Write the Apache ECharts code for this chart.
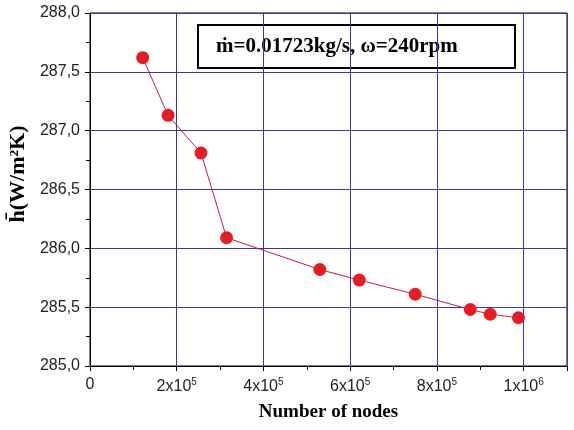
<!DOCTYPE html>
<html>
<head>
<meta charset="utf-8">
<script src="https://cdn.jsdelivr.net/npm/echarts@6/dist/echarts.min.js"></script>
<style>
  html, body { margin: 0; padding: 0; background: #fff; }
  #chart { width: 574px; height: 430px; }
</style>
</head>
<body>
<div id="chart"></div>
<script>
// mesh independence data
let nodeCounts = [121500, 180000, 256000, 315000, 530000, 621000, 750000, 877000, 923000, 988000];
let hValues = [287.62, 287.13, 286.81, 286.09, 285.82, 285.73, 285.61, 285.48, 285.44, 285.41];
let xTickLabels = { 0: '0', 200000: '2x10{sup|5}', 400000: '4x10{sup|5}', 600000: '6x10{sup|5}', 800000: '8x10{sup|5}', 1000000: '1x10{sup|6}' };

let gridBlue = '#3a3a96';
let serif = '"Liberation Serif", "Times New Roman", serif';
let sans = '"Liberation Sans", Arial, sans-serif';

let chart = echarts.init(document.getElementById('chart'));

chart.setOption({
    animation: false,
    grid: {
        left: 90, right: 7, top: 13, bottom: 64,
        outerBoundsMode: 'none',
        show: true, borderColor: '#000', borderWidth: 1
    },
    xAxis: {
        type: 'value',
        min: 0, max: 1100000, interval: 200000,
        name: 'Number of nodes',
        nameLocation: 'middle',
        nameGap: 37,
        nameTextStyle: { fontFamily: serif, fontWeight: 'bold', fontSize: 19, color: '#000' },
        axisLine: { lineStyle: { color: '#000', width: 1 } },
        axisTick: { show: true, inside: false, length: 5, lineStyle: { color: '#000' } },
        minorTick: { show: true, splitNumber: 2, length: 4, lineStyle: { color: '#000' } },
        splitLine: { show: true, lineStyle: { color: gridBlue, width: 1 } },
        axisLabel: {
            margin: 11,
            fontFamily: sans, fontSize: 16, color: '#222',
            formatter: function (v) { return xTickLabels[v] !== undefined ? xTickLabels[v] : ''; },
            rich: {
                sup: { fontFamily: sans, fontSize: 10, color: '#222', verticalAlign: 'top', padding: [0, 0, 9, 0] }
            }
        }
    },
    yAxis: {
        type: 'value',
        min: 285, max: 288, interval: 0.5,
        axisLine: { show: true, lineStyle: { color: '#000', width: 1 } },
        axisTick: { show: true, inside: false, length: 5, lineStyle: { color: '#000' } },
        minorTick: { show: true, splitNumber: 2, length: 4, lineStyle: { color: '#000' } },
        splitLine: { show: true, lineStyle: { color: gridBlue, width: 1 } },
        axisLabel: {
            margin: 10,
            fontFamily: sans, fontSize: 16, color: '#222',
            formatter: function (v) { return v.toFixed(1).replace('.', ','); }
        }
    },
    series: [{
        type: 'line',
        data: nodeCounts.map(function (n, i) { return [n, hValues[i]]; }),
        symbol: 'circle',
        symbolSize: 13,
        lineStyle: { color: '#b8203c', width: 1 },
        itemStyle: { color: '#e51e25', borderWidth: 0 },
        z: 5
    }],
    graphic: [{
        // y axis title, rotated
        type: 'text',
        x: 18, y: 174,
        rotation: Math.PI / 2,
        z: 10,
        style: {
            text: 'h\u0304(W/m\u00B2K)',
            fontFamily: serif, fontWeight: 'bold', fontSize: 22, fill: '#000',
            align: 'center', verticalAlign: 'middle'
        }
    }, {
        type: 'group',
        left: 197, top: 24,
        z: 10,
        children: [{
            type: 'rect',
            shape: { x: 0, y: 0, width: 317, height: 43 },
            style: { fill: '#fff', stroke: '#000', lineWidth: 2 }
        }, {
            type: 'text',
            x: 18, y: 22,
            style: {
                text: '\u1E41=0.01723kg/s, \u03C9=240rpm',
                fontFamily: serif, fontWeight: 'bold', fontSize: 21, fill: '#000',
                align: 'left', verticalAlign: 'middle'
            }
        }]
    }]
});
</script>
</body>
</html>
